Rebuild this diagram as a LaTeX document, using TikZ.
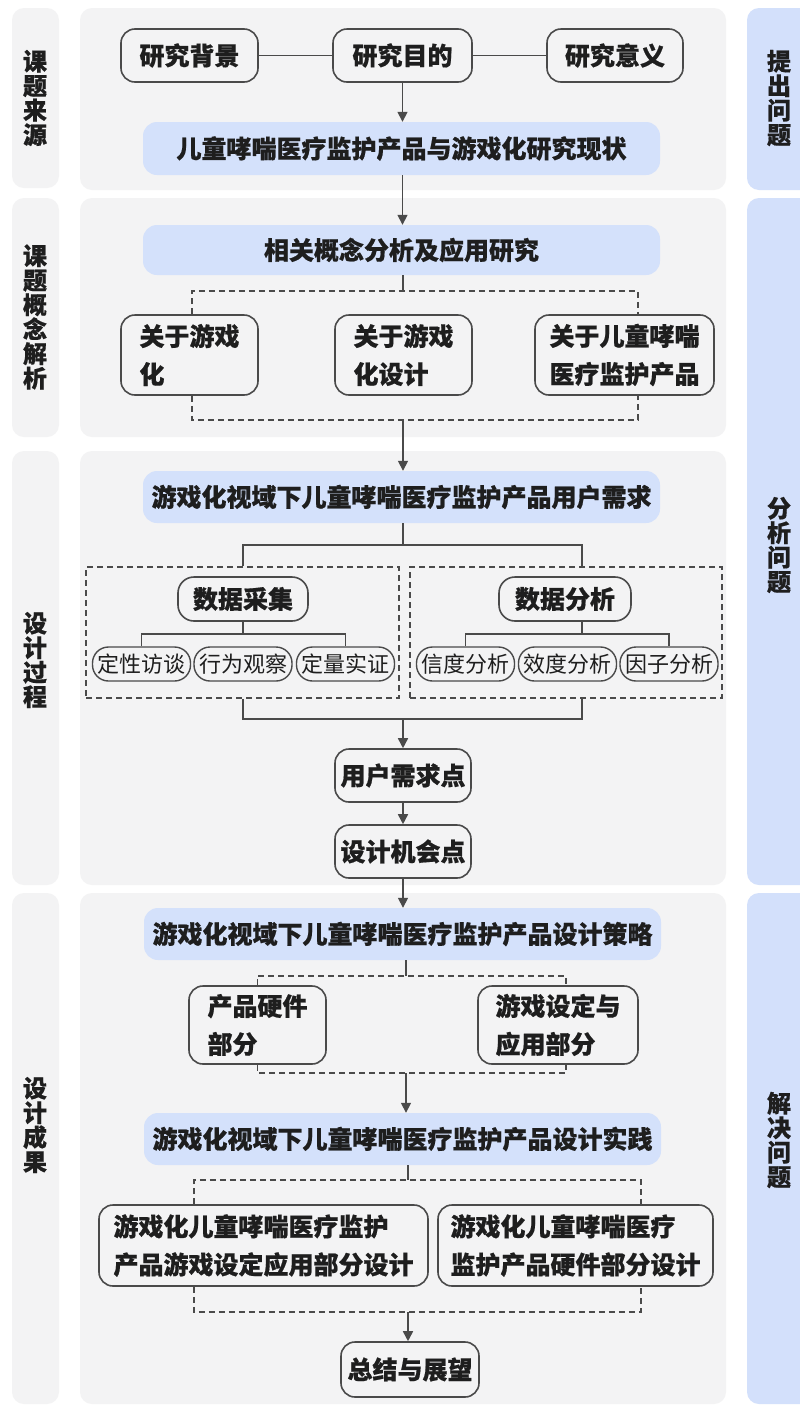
\documentclass[tikz,border=0pt]{standalone}
\usepackage{fontspec}
\setmainfont{Noto Sans CJK SC}[BoldFeatures={FakeBold=0.6}]
\usetikzlibrary{arrows.meta}
\definecolor{panelgray}{HTML}{F3F3F4}
\definecolor{sideblue}{HTML}{D3E0FB}
\definecolor{boxblue}{HTML}{D4E1FB}
\definecolor{linecol}{HTML}{4A4A4A}
\definecolor{txt}{HTML}{1E1E1E}
\begin{document}
\begin{tikzpicture}[x=1pt,y=-1pt,
  panel/.style={fill=panelgray, draw=none, rounded corners=12pt},
  side/.style={fill=sideblue, draw=none, rounded corners=12pt},
  rbox/.style={draw=linecol, line width=1.6pt, fill=panelgray, rounded corners=14pt, inner sep=0pt, text=txt, font=\bfseries\fontsize{25}{38}\selectfont, align=left},
  bbox/.style={fill=boxblue, draw=none, rounded corners=14pt, inner sep=0pt, text=txt, font=\bfseries\fontsize{25}{30}\selectfont, minimum width=517pt, minimum height=52pt},
  pill/.style={draw=linecol, line width=1.4pt, fill=panelgray, rounded corners=16pt, inner sep=0pt, text=txt, font=\fontsize{22}{25}\selectfont, minimum width=98pt, minimum height=34pt},
  dbox/.style={draw=linecol, line width=1.6pt, dash pattern=on 6pt off 4pt, inner sep=0pt},
  conn/.style={draw=linecol, line width=1.6pt},
  arr/.style={conn, -{Triangle[length=10pt,width=10pt]}},
  dline/.style={conn, dash pattern=on 6pt off 4pt},
  vlabel/.style={font=\bfseries\fontsize{24}{24.5}\selectfont, align=center, text=txt, inner sep=0pt},
]
\useasboundingbox (0,0) rectangle (800,1406);
\clip (0,0) rectangle (800,1406);
\fill[white] (0,0) rectangle (800,1406);

% panels
\path[panel] (12,8) rectangle (59,188);
\path[panel] (12,198) rectangle (59,437);
\path[panel] (12,451) rectangle (59,885);
\path[panel] (12,893) rectangle (59,1404);
\path[panel] (80,8) rectangle (726,190);
\path[panel] (80,198) rectangle (726,437);
\path[panel] (80,451) rectangle (726,885);
\path[panel] (80,893) rectangle (726,1404);
\path[side] (747,8) rectangle (815,190);
\path[side] (747,198) rectangle (815,885);
\path[side] (747,893) rectangle (815,1404);

% side labels
\node[vlabel] (l1) at (35,98) {课\\题\\来\\源};
\node[vlabel] (l2) at (35,317) {课\\题\\概\\念\\解\\析};
\node[vlabel] (l3) at (35,660) {设\\计\\过\\程};
\node[vlabel] (l4) at (35,1125) {设\\计\\成\\果};
\node[vlabel] (r1) at (779,98) {提\\出\\问\\题};
\node[vlabel] (r2) at (779,545) {分\\析\\问\\题};
\node[vlabel] (r3) at (779,1140) {解\\决\\问\\题};

% panel 1
\node[rbox, minimum width=137pt, minimum height=53pt] (bg) at (189.5,55.5) {研究背景};
\node[rbox, minimum width=139pt, minimum height=53pt] (mu) at (402.5,55.5) {研究目的};
\node[rbox, minimum width=136pt, minimum height=53pt] (yy) at (615,55.5) {研究意义};
\node[bbox, minimum height=53pt] (st1) at (401.5,148.5) {儿童哮喘医疗监护产品与游戏化研究现状};
\draw[conn] (bg.east) -- (mu.west);
\draw[conn] (mu.east) -- (yy.west);
\draw[arr] (mu.south) -- (mu.south |- st1.north);

% panel 2
\node[bbox, minimum height=50pt] (st2) at (401.5,250) {相关概念分析及应用研究};
\draw[arr] (st1.south -| mu.south) -- (mu.south |- st2.north);
\node[rbox, minimum width=137pt, minimum height=80pt] (c1) at (189.5,355) {关于游戏\\化};
\node[rbox, minimum width=137pt, minimum height=80pt] (c2) at (403.5,355) {关于游戏\\化设计};
\node[rbox, minimum width=179pt, minimum height=80pt] (c3) at (624.5,355) {关于儿童哮喘\\医疗监护产品};
\coordinate (t2) at (403,291);
\coordinate (dl) at (192,291);
\coordinate (dr) at (638,291);
\coordinate (b2) at (403,420);
\coordinate (bl) at (192,420);
\coordinate (br) at (638,420);
\draw[conn] (st2.south -| t2) -- (t2);
\draw[dline] (dl |- c1.north) -- (dl) -- (dr) -- (dr |- c3.north);
\draw[dline] (bl |- c1.south) -- (bl) -- (br) -- (br |- c3.south);

% panel 3
\node[bbox] (st3) at (401.5,497) {游戏化视域下儿童哮喘医疗监护产品用户需求};
\draw[arr] (b2) -- (b2 |- st3.north);
\node[dbox, minimum width=313pt, minimum height=131pt] (d1) at (242.5,632.5) {};
\node[dbox, minimum width=312pt, minimum height=131pt] (d2) at (566,632.5) {};
\coordinate (s3) at (403,545);
\coordinate (xa) at (243,545);
\coordinate (xb) at (582,545);
\draw[conn] (st3.south -| s3) -- (s3);
\draw[conn] (xa |- d1.north) -- (xa) -- (xb) -- (xb |- d2.north);
\node[rbox, minimum width=130pt, minimum height=44pt, rounded corners=16pt] (sj) at (243,599) {数据采集};
\node[rbox, minimum width=132pt, minimum height=44pt, rounded corners=16pt] (sf) at (565,599) {数据分析};
\node[pill] (p1) at (141.5,664) {定性访谈};
\node[pill] (p2) at (243,664) {行为观察};
\node[pill] (p3) at (345.5,664) {定量实证};
\node[pill] (q1) at (465.5,664) {信度分析};
\node[pill] (q2) at (567.5,664) {效度分析};
\node[pill] (q3) at (669,664) {因子分析};
\coordinate (ja) at (243,634);
\coordinate (fa) at (582,634);
\draw[conn] (sj.south) -- (ja);
\draw[conn] (p1.north) -- (p1.north |- ja) -- (p3.north |- ja) -- (p3.north);
\draw[conn] (sf.south -| fa) -- (fa);
\draw[conn] (q1.north) -- (q1.north |- fa) -- (q3.north |- fa) -- (q3.north);
\coordinate (m3) at (403,719);
\draw[conn] (xa |- d1.south) -- (xa |- m3) -- (xb |- m3) -- (xb |- d2.south);
\node[rbox, minimum width=136pt, minimum height=53pt] (xq) at (403,775.5) {用户需求点};
\node[rbox, minimum width=136pt, minimum height=53pt] (jh) at (403,851.5) {设计机会点};
\draw[arr] (m3) -- (xq.north);
\draw[arr] (xq.south) -- (jh.north);

% panel 4
\node[bbox] (st4) at (402.5,934) {游戏化视域下儿童哮喘医疗监护产品设计策略};
\draw[arr] (jh.south) -- (jh.south |- st4.north);
\node[rbox, minimum width=137pt, minimum height=78pt] (yj) at (257.5,1025) {产品硬件\\部分};
\node[rbox, minimum width=160pt, minimum height=78pt] (yx) at (558,1025) {游戏设定与\\应用部分};
\coordinate (t4) at (406,976);
\coordinate (e1) at (566,976);
\coordinate (b4) at (406,1073);
\coordinate (e2) at (566,1073);
\draw[conn] (st4.south -| t4) -- (t4);
\draw[dline] (yj.north) -- (yj.north |- t4) -- (e1) -- (e1 |- yx.north);
\draw[dline] (yj.south) -- (yj.south |- b4) -- (e2) -- (e2 |- yx.south);
\node[bbox] (st5) at (402.5,1139) {游戏化视域下儿童哮喘医疗监护产品设计实践};
\draw[arr] (b4) -- (b4 |- st5.north);
\node[rbox, minimum width=329pt, minimum height=81pt] (sa) at (263.5,1245.5) {游戏化儿童哮喘医疗监护\\产品游戏设定应用部分设计};
\node[rbox, minimum width=275pt, minimum height=81pt] (sb) at (575.5,1245.5) {游戏化儿童哮喘医疗\\监护产品硬件部分设计};
\coordinate (t5) at (408,1180);
\coordinate (f1) at (194,1180);
\coordinate (f2) at (641,1180);
\coordinate (b5) at (408,1312);
\coordinate (g1) at (194,1312);
\coordinate (g2) at (641,1312);
\draw[conn] (st5.south -| t5) -- (t5);
\draw[dline] (f1 |- sa.north) -- (f1) -- (f2) -- (f2 |- sb.north);
\draw[dline] (g1 |- sa.south) -- (g1) -- (g2) -- (g2 |- sb.south);
\node[rbox, minimum width=138pt, minimum height=55pt] (zj) at (410,1369.5) {总结与展望};
\draw[arr] (b5) -- (b5 |- zj.north);
\end{tikzpicture}
\end{document}
